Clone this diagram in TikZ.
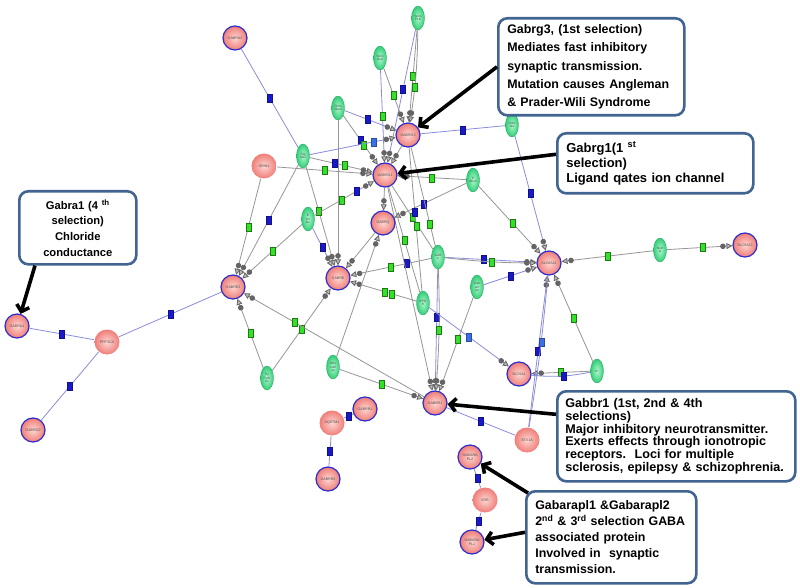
\documentclass[tikz,border=0pt]{standalone}
\usepackage{fontspec}
\setmainfont{Liberation Sans}
\usetikzlibrary{arrows.meta,shapes.geometric,calc}
\definecolor{boxblue}{RGB}{65,100,145}
\definecolor{nodeblue}{RGB}{45,45,205}
\definecolor{pinkout}{RGB}{240,125,120}
\definecolor{pinkin}{RGB}{252,215,210}
\definecolor{greenout}{RGB}{50,205,120}
\definecolor{greenin}{RGB}{175,248,205}
\definecolor{greenbd}{RGB}{40,160,90}
\definecolor{edgegray}{RGB}{150,150,150}
\definecolor{edgelav}{RGB}{140,140,220}
\definecolor{sqgreen}{RGB}{50,225,40}
\definecolor{sqgreenbd}{RGB}{30,120,20}
\definecolor{sqblue}{RGB}{25,25,200}
\definecolor{sqlblue}{RGB}{60,110,230}
\definecolor{markgray}{RGB}{100,100,100}
\pgfdeclarelayer{back}
\pgfdeclarelayer{bg}
\pgfsetlayers{back,bg,main}
\hyphenpenalty=10000
\exhyphenpenalty=10000
\tikzset{
 gene/.style={circle, minimum size=24pt, inner sep=0pt, draw=nodeblue, line width=1.2pt, inner color=pinkin, outer color=pinkout, font=\fontsize{3.6}{4}\selectfont, text=black!70, align=center},
 genenb/.style={gene, draw=none, minimum size=25pt},
 term/.style={ellipse, minimum width=13pt, minimum height=24pt, inner sep=0pt, draw=greenbd, line width=0.3pt, inner color=greenin, outer color=greenout, font=\fontsize{3.2}{3.6}\selectfont, text=black!70, align=center},
 gline/.style={draw=edgegray, line width=0.8pt},
 lline/.style={draw=edgelav, line width=0.8pt},
 gsq/.style={rectangle, draw=sqgreenbd, fill=sqgreen, line width=0.3pt, minimum width=5pt, minimum height=8pt, inner sep=0pt},
 bsq/.style={rectangle, draw=sqblue!70!black, fill=sqblue, line width=0.3pt, minimum width=5pt, minimum height=8pt, inner sep=0pt},
 lsq/.style={bsq, fill=sqlblue, draw=sqlblue!70!black},
 endmark/.style={-{Circle[length=5.5pt,width=5.5pt,fill=markgray,color=markgray,sep=0.8pt] Triangle[length=6pt,width=6pt,fill=markgray!45,color=markgray]}},
 callout/.style={draw=boxblue, line width=2.6pt, rounded corners=9pt, fill=white, inner ysep=0pt, inner xsep=9pt, anchor=north west, align=left},
 pointer/.style={draw=black, line width=3.6pt, -{Straight Barb[length=6pt,width=13pt]}},
}
\begin{document}
\begin{tikzpicture}[x=1pt,y=-1pt]
\useasboundingbox (0,0) rectangle (800,588);
\begin{pgfonlayer}{back}
\fill[white] (0,0) rectangle (800,588);
\end{pgfonlayer}

% gene nodes
\node[gene] (gabra2) at (235,38) {GABRA2};
\node[gene] (gabrg3) at (408,135) {GABRG3};
\node[gene] (gabrg1) at (385,175) {GABRG1};
\node[gene] (gabrq) at (383,223) {GABRQ};
\node[gene] (gabre) at (338,278) {GABRE};
\node[gene] (gabre2) at (233,287) {GABRE2};
\node[gene] (gabra1) at (17,326) {GABRA1};
\node[gene] (gabrg2) at (33,430) {GABRG2};
\node[gene] (slc6a11) at (549,263) {SLC6A11};
\node[gene] (slc6a13) at (745,245) {SLC6A13};
\node[gene] (slc6a1) at (519,374) {SLC6A1};
\node[gene] (gabbr1) at (435,403) {GABBR1};
\node[gene] (gabarapl2) at (470,457) {GABARA\\PL2};
\node[gene] (gabarapl1) at (472,542) {GABARA\\PL1};
\node[gene] (gabrr1) at (365,409) {GABRR1};
\node[gene] (gabrr2) at (328,479) {GABRR2};
\node[genenb] (grin1) at (264,166) {GRIN1};
\node[genenb] (ppp3ca) at (107,342) {PPP3CA};
\node[genenb] (stx1a) at (527,440) {STX1A};
\node[genenb] (vdr) at (485,500) {VDR};
\node[genenb] (sqstm1) at (332,423) {SQSTM1};

% term nodes
\node[term] (t1) at (418,18) {Sens\\PLK};
\node[term] (t2) at (380,58) {Sens\\sbut};
\node[term] (t3) at (338,108) {Phito\\Sbed};
\node[term] (t4) at (303,156) {Sig\\Sel2};
\node[term] (chl) at (512,125) {chlor\\ide};
\node[term] (trd) at (473,180) {Tr\\dition};
\node[term] (em) at (308,219) {E\\lim\\bic};
\node[term] (gaba) at (438,257) {GAB\\A};
\node[term] (calc) at (477,287) {Calc\\um\\ion};
\node[term] (epo) at (423,303) {EPO\\H};
\node[term] (pyr) at (267,378) {Py\\Pydr\\ox};
\node[term] (ions) at (333,367) {Ions\\sulfi\\ne};
\node[term] (nutr) at (660,250) {Nutr\\al};
\node[term] (kp) at (597,371) {K+};

\begin{pgfonlayer}{bg}
\draw[gline,endmark] (t1) -- node[gsq,pos=.5]{} (gabrg3);
\draw[gline,endmark] (t1) to[bend left=4] node[gsq,pos=.62]{} (gabrg3);
\draw[lline,endmark] (t1) -- node[bsq,pos=.45]{} (gabrg1);
\draw[gline,endmark] (t2) -- node[gsq,pos=.5]{} (gabrg3);
\draw[lline,endmark] (t2) -- node[gsq,pos=.5]{} (gabrg1);
\draw[lline,endmark] (t3) -- node[bsq,pos=.45]{} (gabrg3);
\draw[gline,endmark] (t3) -- node[bsq,pos=.5]{} node[gsq,pos=.6]{} (gabrg1);
\draw[gline,endmark] (t3) -- (gabre);
\draw[lline,endmark] (t4) -- node[lsq,pos=.75]{} (gabrg3);
\draw[gline,endmark] (t4) -- node[bsq,pos=.4]{} node[gsq,pos=.55]{} (gabrg1);
\draw[gline,endmark] (t4) -- node[bsq,pos=.5]{} (gabre2);
\draw[gline,endmark] (t4) -- node[gsq,pos=.45]{} (gabre);
\draw[lline] (gabra2) -- node[bsq,pos=.5]{} (t4);
\draw[gline,endmark] (grin1) -- node[gsq,pos=.5]{} (gabrg1);
\draw[gline,endmark] (grin1) -- node[gsq,pos=.5]{} (gabre2);
\draw[gline,endmark] (em) -- node[gsq,pos=.5]{} (gabre2);
\draw[lline,endmark] (em) -- node[bsq,pos=.5]{} (gabre);
\draw[gline,endmark] (em) -- node[gsq,pos=.45]{} node[bsq,pos=.7]{} (gabrg1);
\draw[gline,endmark] (gabrg3) -- (gabrg1);
\draw[gline,endmark] (gabrg1) -- (gabrq);
\draw[gline,endmark] (gabrq) -- (gabre);
\draw[lline] (gabrg3) -- node[bsq,pos=.5]{} (chl);
\draw[lline,endmark] (chl) -- node[bsq,pos=.5]{} (slc6a11);
\draw[gline,endmark] (trd) -- node[gsq,pos=.5]{} (gabrg1);
\draw[gline,endmark] (trd) -- node[gsq,pos=.55]{} (slc6a11);
\draw[gline,endmark] (trd) -- node[bsq,pos=.6]{} (gabrq);
\draw[lline,endmark] (gaba) -- node[bsq,pos=.43]{} (slc6a11);
\draw[gline,endmark] (gaba) to[bend right=3] node[gsq,pos=.52]{} (slc6a11);
\draw[gline,endmark] (gaba) -- node[bsq,pos=.3]{} node[gsq,pos=.5]{} (gabre);
\draw[gline] (gabrg1) -- node[gsq,pos=.5]{} (gaba);
\draw[gline] (gabrg3) -- node[gsq,pos=.78]{} (gaba);
\draw[lline,endmark] (gaba) -- node[bsq,pos=.4]{} (gabbr1);
\draw[gline,endmark] (gaba) to[bend left=3] node[gsq,pos=.5]{} (gabbr1);
\draw[lline,endmark] (calc) -- node[bsq,pos=.5]{} (slc6a11);
\draw[gline,endmark] (calc) -- node[gsq,pos=.45]{} (gabbr1);
\draw[gline,endmark] (epo) -- node[gsq,pos=.38]{} node[gsq,pos=.48]{} (gabre);
\draw[gline] (gabrg1) -- node[gsq,pos=.5]{} (epo);
\draw[gline] (gabrg3) -- node[bsq,pos=.45]{} node[gsq,pos=.55]{} (epo);
\draw[lline,endmark] (epo) -- node[lsq,pos=.5]{} (slc6a1);
\draw[gline,endmark] (gabrg1) -- (gabbr1);
\draw[gline,endmark] (ions) -- node[gsq,pos=.5]{} (gabbr1);
\draw[gline,endmark] (ions) -- (gabrq);
\draw[gline,endmark] (pyr) -- node[gsq,pos=.5]{} (gabre2);
\draw[gline,endmark] (pyr) -- node[gsq,pos=.5]{} (gabre);
\draw[gline,endmark] (gabbr1) -- node[gsq,pos=.72]{} (gabre2);
\draw[gline,endmark] (nutr) -- node[gsq,pos=.5]{} (slc6a11);
\draw[gline,endmark] (nutr) -- node[gsq,pos=.55]{} (slc6a13);
\draw[gline,endmark] (kp) -- node[gsq,pos=.5]{} (slc6a11);
\draw[gline,endmark] (kp) -- node[gsq,pos=.5]{} (slc6a1);
\draw[lline] (kp) to[bend left=8] node[bsq,pos=.45]{} (slc6a1);
\draw[lline,endmark] (stx1a) -- node[bsq,pos=.5]{} (slc6a11);
\draw[lline] (stx1a) to[bend right=2] node[lsq,pos=.57]{} (slc6a11);
\draw[lline] (stx1a) -- node[bsq,pos=.5]{} (gabbr1);
\draw[lline] (gabre2) -- node[bsq,pos=.5]{} (ppp3ca);
\draw[lline] (ppp3ca) -- node[bsq,pos=.5]{} (gabra1);
\draw[lline] (ppp3ca) -- node[bsq,pos=.5]{} (gabrg2);
\draw[lline] (sqstm1) -- node[bsq,pos=.5]{} (gabrr1);
\draw[lline] (sqstm1) -- node[bsq,pos=.5]{} (gabrr2);
\draw[lline] (gabarapl2) -- node[bsq,pos=.5]{} (vdr);
\draw[lline] (vdr) -- node[bsq,pos=.5]{} (gabarapl1);
\end{pgfonlayer}

% callouts
\node[callout, text width=168pt, minimum height=97pt, font=\bfseries\fontsize{12.4}{18.3}\selectfont] (b1) at (497,17)
 {Gabrg3, (1st selection)\\Mediates fast inhibitory\\synaptic transmission.\\Mutation causes Angleman\\\& Prader-Wili Syndrome};
\node[callout, text width=178pt, minimum height=60pt, font=\bfseries\fontsize{13}{15}\selectfont] (b2) at (556,132)
 {Gabrg1(1 \textsuperscript{st}\\selection)\\Ligand qates ion channel};
\node[callout, align=center, text width=99pt, minimum height=73pt, font=\bfseries\fontsize{11.2}{15.7}\selectfont] (b3) at (18,190)
 {Gabra1 (4 \textsuperscript{th}\\selection)\\Chloride\\conductance};
\node[callout, inner xsep=8pt, text width=222pt, minimum height=90pt, font=\bfseries\fontsize{12.6}{11.6}\selectfont] (b4) at (556,390)
 {Gabbr1 (1st, 2nd \& 4th\\selections)\\Major inhibitory neurotransmitter.\\Exerts effects through ionotropic\\receptors.\ \ Loci for multiple\\sclerosis, epilepsy \& schizophrenia.};
\node[callout, text width=152pt, minimum height=92pt, font=\bfseries\fontsize{12.4}{16}\selectfont] (b5) at (525,490)
 {Gabarapl1 \&Gabarapl2\\2\textsuperscript{nd} \& 3\textsuperscript{rd} selection GABA\\associated protein\\Involved in\ \ synaptic\\transmission.};

% pointers
\draw[pointer] (b1.west) -- (gabrg3);
\draw[pointer] ([yshift=9pt]b2.west) -- (gabrg1);
\draw[pointer] ([xshift=17pt]b3.south west) -- (gabra1);
\draw[pointer] ([yshift=22pt]b4.west) -- (gabbr1);
\draw[pointer] ([xshift=3pt,yshift=-3pt]b5.north west) -- (gabarapl2);
\draw[pointer] ([yshift=5pt]b5.west) -- (gabarapl1);
\end{tikzpicture}
\end{document}
